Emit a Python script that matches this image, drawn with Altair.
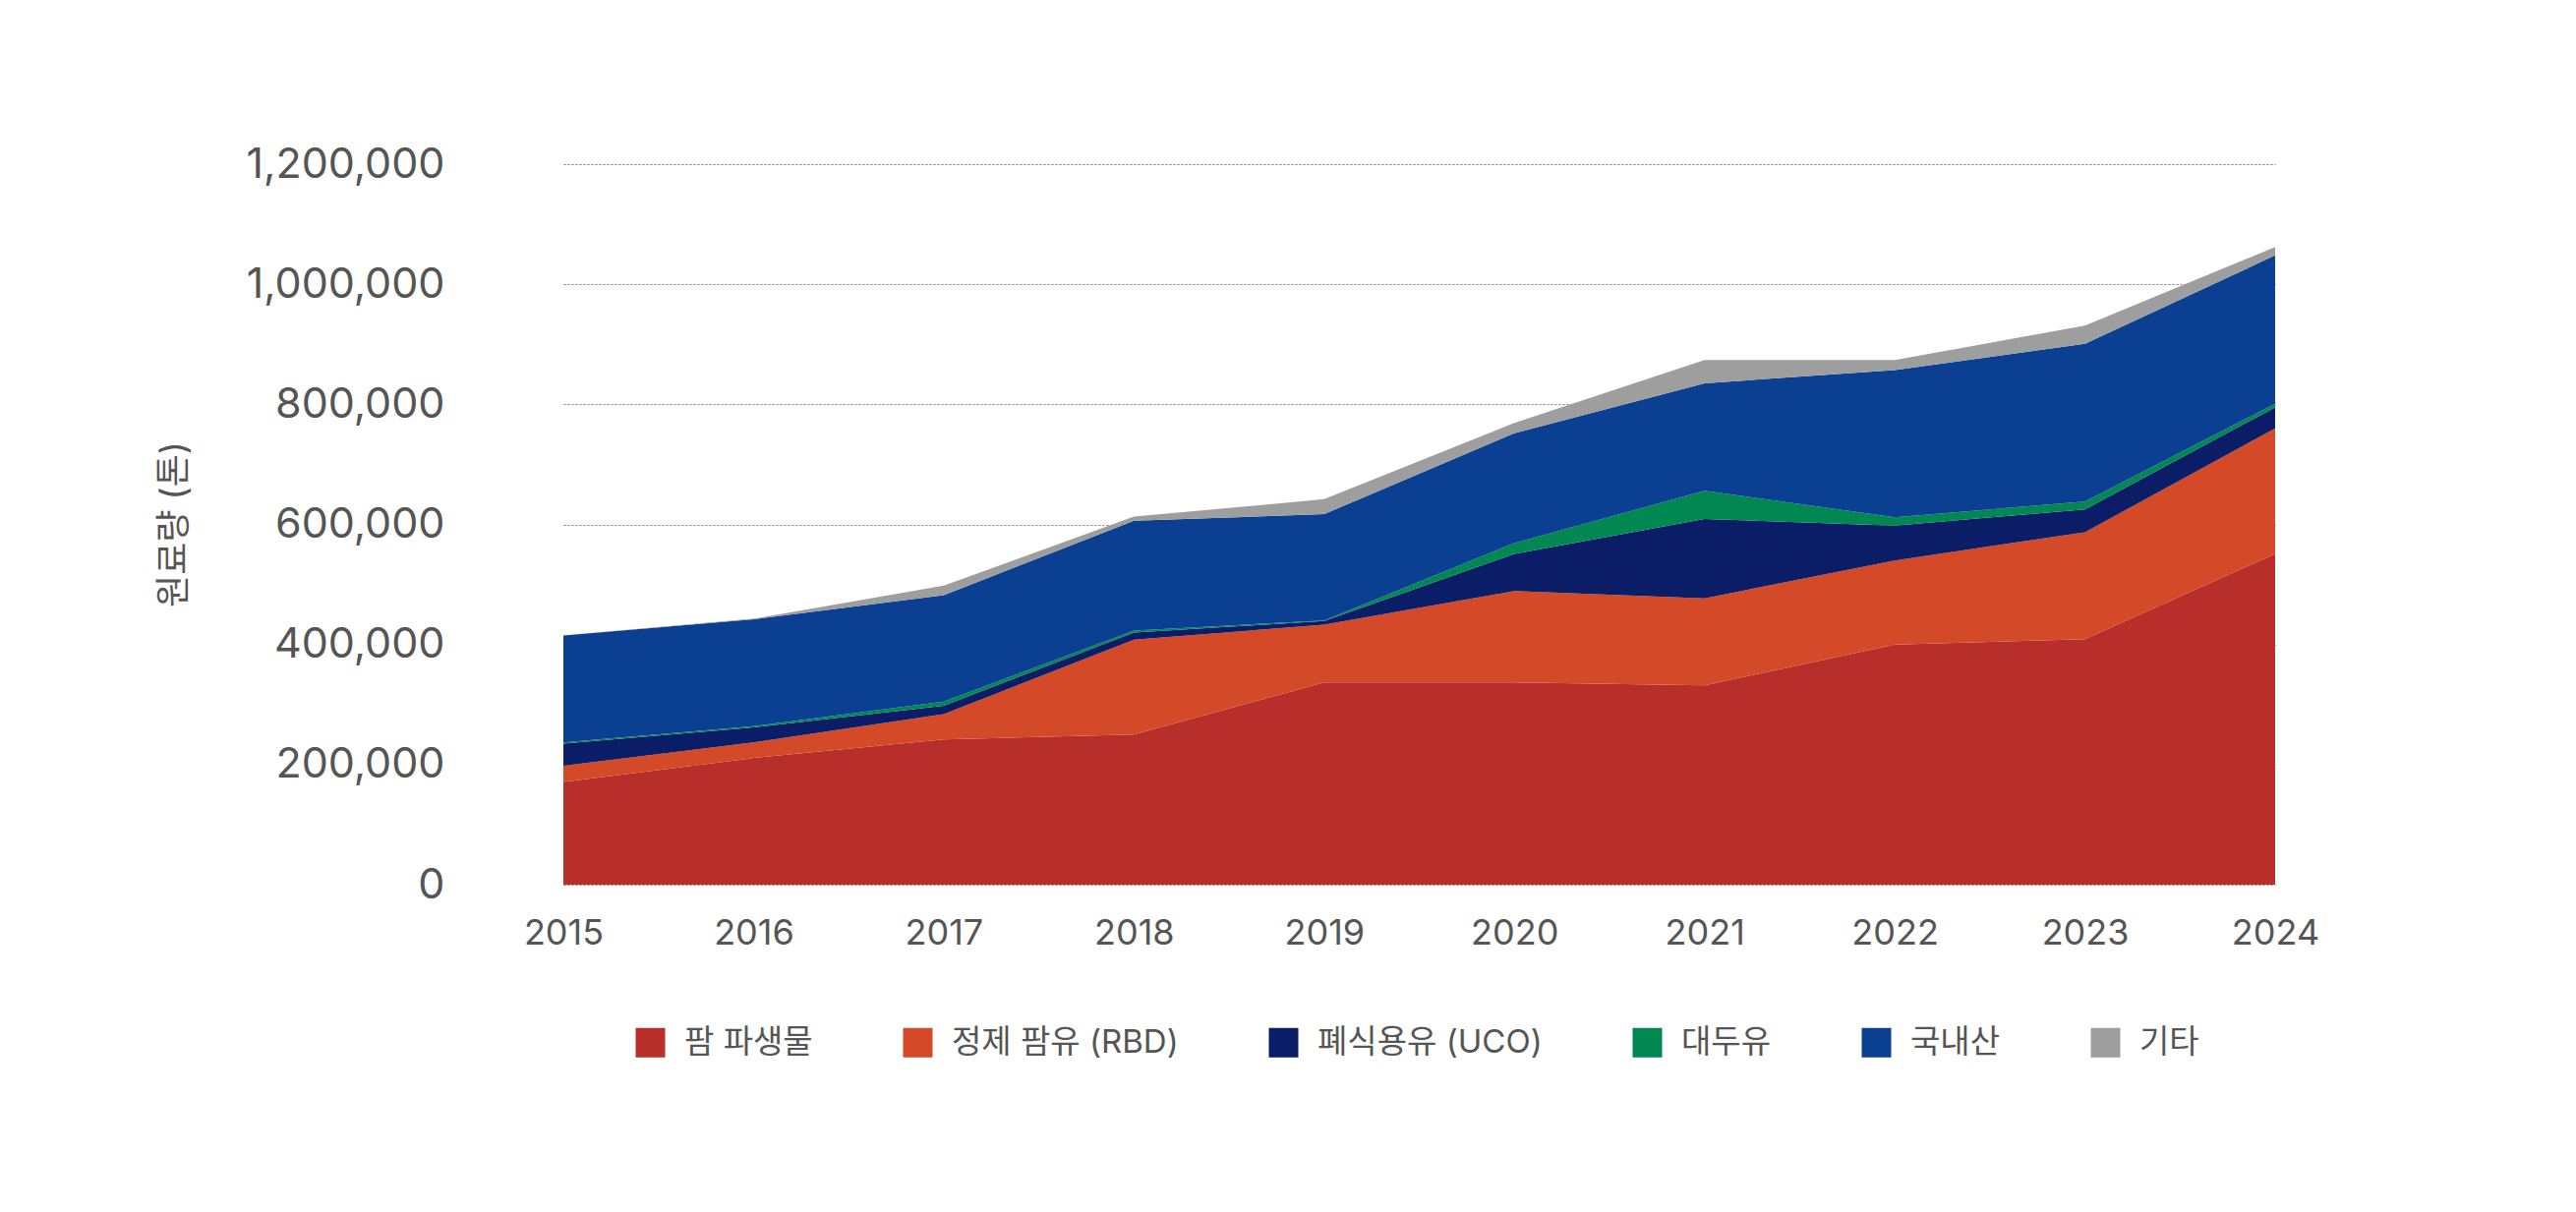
import altair as alt
import pandas as pd

years = [2015, 2016, 2017, 2018, 2019, 2020, 2021, 2022, 2023, 2024]
series = ["팜 파생물", "정제 팜유 (RBD)", "폐식용유 (UCO)", "대두유", "국내산", "기타"]
colors = ["#B82E2B", "#D44A28", "#0B1D66", "#018752", "#0B3F91", "#9D9E9D"]

palm_deriv = [171000, 211000, 242000, 250000, 337000, 337000, 332000, 400000, 409000, 551000]
rbd = [27000, 26000, 42000, 158000, 96000, 152000, 145000, 140000, 178000, 209000]
uco = [37000, 25000, 14000, 12000, 6000, 62000, 132000, 58000, 38000, 35000]
soy = [2000, 2000, 7000, 3000, 1000, 18000, 47000, 14000, 13000, 6000]
domestic = [178000, 178000, 177000, 183000, 177000, 183000, 179000, 245000, 263000, 247000]
other = [0, 1000, 16000, 7000, 25000, 17000, 39000, 17000, 30000, 14000]

y_ticks = [0, 200000, 400000, 600000, 800000, 1000000, 1200000]

values = [palm_deriv, rbd, uco, soy, domestic, other]
rows = []
for i, (name, vals) in enumerate(zip(series, values)):
    for yr, v in zip(years, vals):
        rows.append({"year": yr, "series": name, "value": v, "order": i})
df = pd.DataFrame(rows)

FONT = "Inter, 'Noto Sans CJK KR', sans-serif"
TEXT = "#555555"

chart = alt.Chart(df).mark_area(interpolate="linear").encode(
    x=alt.X("year:Q",
            scale=alt.Scale(domain=[2015, 2024], nice=False, zero=False),
            axis=alt.Axis(values=years, format="d", title=None, grid=False,
                          domain=False, ticks=False, labelPadding=32,
                          labelFlush=False, labelBound=False,
                          labelFontSize=36, labelColor=TEXT, labelFont=FONT)),
    y=alt.Y("value:Q", stack="zero",
            scale=alt.Scale(domain=[0, 1200000], nice=False),
            axis=alt.Axis(values=y_ticks, format=",d", title="원료량 (톤)",
                          domain=False, ticks=False, labelPadding=121,
                          labelLimit=500, labelFlush=False,
                          labelFontSize=43, labelColor=TEXT, labelFont=FONT,
                          grid=True, gridColor="#777777", gridDash=[2, 2],
                          gridWidth=1,
                          titleFont=FONT, titleFontSize=36, titleColor=TEXT,
                          titleFontWeight="normal", titleX=-396, titleY=366,
                          titleBaseline="middle", titleAlign="center",
                          titleAngle=270)),
    color=alt.Color("series:N", sort=series,
                    scale=alt.Scale(domain=series, range=colors),
                    legend=alt.Legend(title=None, orient="none", direction="horizontal",
                                      legendX=72, legendY=877, symbolType="square",
                                      symbolSize=900, symbolStrokeWidth=0,
                                      labelFontSize=33, labelFont=FONT, labelColor=TEXT,
                                      labelOffset=18, columnPadding=90, labelLimit=600,
                                      columns=6)),
    order=alt.Order("order:Q", sort="ascending"),
).properties(
    width=1741, height=733,
    background="white",
    autosize=alt.AutoSizeParams(type="none"),
    padding={"left": 565, "top": 159, "right": 270, "bottom": 300},
).configure_view(stroke=None)

chart.save("out.html", embed_options={"renderer": "svg", "actions": False})
